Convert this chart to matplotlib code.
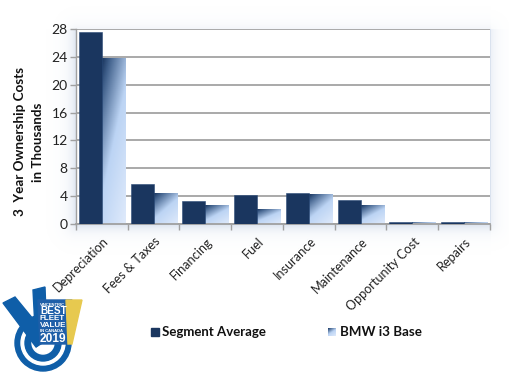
import numpy as np
import matplotlib
matplotlib.use("Agg")
import matplotlib.pyplot as plt
from matplotlib.patches import Polygon, Circle
from matplotlib.colors import LinearSegmentedColormap

categories = ["Depreciation", "Fees & Taxes", "Financing", "Fuel", "Insurance",
              "Maintenance", "Opportunity Cost", "Repairs"]
segment_average = [27.5, 5.7, 3.3, 4.2, 4.5, 3.4, 0.35, 0.35]
bmw_i3_base = [23.7, 4.4, 2.7, 2.15, 4.25, 2.7, 0.2, 0.2]
y_ticks = [0, 4, 8, 12, 16, 20, 24, 28]
series_names = ["Segment Average", "BMW i3 Base"]

W, H = 510, 372
plt.rcParams['font.family'] = ['Lato', 'DejaVu Sans']
fig = plt.figure(figsize=(W / 100, H / 100), dpi=100, facecolor="white")

DARK = "#1a365f"
grad = LinearSegmentedColormap.from_list(
    "g", [(0, DARK), (0.12, "#3f5f8a"), (0.5, "#bcd4f4"), (1, "#dfeafb")])

# pixel-space background layer
bg = fig.add_axes([0, 0, 1, 1], zorder=0)
bg.set_xlim(0, W); bg.set_ylim(H, 0); bg.axis("off")
L, R, T, B = 76, 490, 29, 224
yy, xx = np.mgrid[0:H, 0:W]
dx = np.maximum(np.maximum(L - xx, xx - R), 0)
dy = np.maximum(np.maximum(T - yy, yy - B), 0)
d = np.hypot(dx, dy)
a = np.exp(-d / 6.5) * 0.42
a[(xx > R)] *= 0.55
a[(yy < T)] *= 0.35
shadow = np.zeros((H, W, 4))
shadow[..., :3] = matplotlib.colors.to_rgb("#a9bcd8")
shadow[..., 3] = a
bg.imshow(shadow, extent=(0, W, H, 0), aspect="auto", zorder=0)
bg.set_xlim(0, W); bg.set_ylim(H, 0)

# main chart
ax = fig.add_axes([L / W, 1 - B / H, (R - L) / W, (B - T) / H], zorder=1, facecolor="white")
x = np.arange(len(categories))
bw = 0.445
ax.bar(x - bw / 2, segment_average, bw, color=DARK, zorder=3, edgecolor="#2a4a78", linewidth=0.4)
light = ax.bar(x + bw / 2, bmw_i3_base, bw, color="none", zorder=2)

u, v = np.meshgrid(np.linspace(0, 1, 40), np.linspace(0, 1, 80))
g = 0.4 * u + 0.6 * v
for b in light:
    ax.imshow(g, cmap=grad, vmin=0, vmax=1, aspect="auto", zorder=2, origin="upper",
              extent=(b.get_x(), b.get_x() + b.get_width(), 0, b.get_height()))

ax.set_xlim(-0.5, len(categories) - 0.5)
ax.set_ylim(0, 28)
ax.set_yticks(y_ticks)
ax.set_xticks(np.arange(len(categories) + 1) - 0.5, labels=[])
ax.grid(axis="y", color="#a3a3a3", linewidth=1.3, zorder=1)
ax.set_axisbelow(True)
ax.tick_params(axis="y", length=4, width=1, color="#a0a0a0", labelsize=10, pad=2, labelcolor="#222222")
ax.tick_params(axis="x", length=4, width=1, color="#a0a0a0")
for s in ["top", "right"]:
    ax.spines[s].set_visible(False)
ax.spines["left"].set_color("#a0a0a0")
ax.spines["bottom"].set_color("#a0a0a0")
ax.spines["left"].set_linewidth(1)
ax.spines["bottom"].set_linewidth(1.3)

for i, c in enumerate(categories):
    ax.annotate(c, xy=(i, 0), xytext=(0.5, -8), textcoords="offset points", rotation=45,
                ha="right", va="top", rotation_mode="anchor", fontsize=9.1, color="#222222")

# y title
bg.text(20, 142, "3  Year Ownership Costs", rotation=90, ha="center", va="center",
        fontsize=9.7, fontweight="bold", color="#111111")
bg.text(38, 142, "in Thousands", rotation=90, ha="center", va="center",
        fontsize=9.6, fontweight="bold", color="#111111")

# legend
bg.add_patch(plt.Rectangle((151, 328), 8, 8, color=DARK, zorder=3))
bg.text(162, 332, series_names[0], ha="left", va="center", fontsize=9.5, fontweight="bold", color="#111111")
bg.imshow(g, cmap=grad, vmin=0, vmax=1, aspect="auto", extent=(328, 336, 336, 328), zorder=3)
bg.text(340, 332, series_names[1], ha="left", va="center", fontsize=9.6, fontweight="bold", color="#111111")
bg.set_xlim(0, W); bg.set_ylim(H, 0)

# badge
top = fig.add_axes([0, 0, 1, 1], zorder=2)
top.set_xlim(0, W); top.set_ylim(H, 0); top.axis("off"); top.patch.set_alpha(0)
BLUE = "#0f5ea8"
cx, cy = 43, 343
top.add_patch(Circle((cx, cy), 28, color=BLUE, zorder=1))
top.add_patch(Circle((cx, cy), 22, color="white", zorder=2))
top.add_patch(Circle((cx, cy), 18, color=BLUE, zorder=3))
top.add_patch(Circle((cx, cy), 11, color="white", zorder=4))
top.add_patch(Polygon([(3, 303), (15, 297), (47, 336), (36, 347)], color=BLUE, zorder=6))
top.add_patch(Polygon([(33, 290), (45, 287), (47, 340), (36, 347)], color=BLUE, zorder=6))
top.add_patch(Polygon([(38, 300), (72, 300), (68, 344), (40, 344)], color="#1f5fa8", zorder=7))
top.add_patch(Polygon([(66, 300), (82, 300), (72, 344), (68, 344)], color="#e7c94f", zorder=8))
for txt, y0, fs in [("VINCENTRIC", 304.5, 3), ("BEST", 311, 7.2), ("FLEET", 318.5, 5.8),
                    ("VALUE", 325.5, 5.8), ("IN CANADA", 331.5, 3), ("2019", 339, 8.6)]:
    top.text(40, y0, txt, ha="left", va="center", fontsize=fs, fontweight="bold",
             color="white", zorder=9, family=["Liberation Sans", "DejaVu Sans"])

fig.savefig("out.png", dpi=100)
